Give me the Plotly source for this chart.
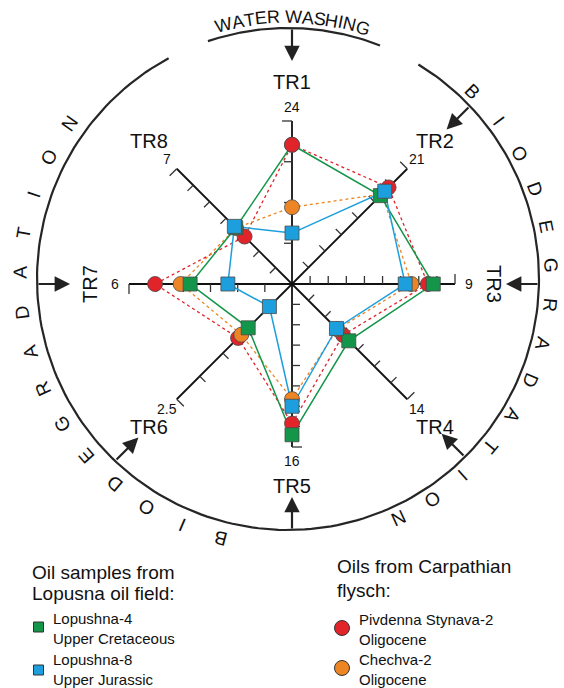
import numpy as np
import plotly.graph_objects as go

# ---------------------------------------------------------------- data
axis_names = ["TR1", "TR2", "TR3", "TR4", "TR5", "TR6", "TR7", "TR8"]
axis_max = [24, 21, 9, 14, 16, 2.5, 6, 7]
axis_intervals = [4, 7, 9, 7, 8, 5, 6, 7]
max_labels = ["24", "21", "9", "14", "16", "2.5", "6", "7"]

lopushna4 = [20.5, 16.1, 7.8, 6.9, 14.8, 0.95, 3.75, 3.42]   # Upper Cretaceous
lopushna8 = [7.5, 16.9, 6.25, 5.4, 12.0, 0.49, 2.36, 3.5]    # Upper Jurassic
pivdenna = [20.5, 17.6, 7.5, 6.2, 13.7, 1.17, 5.04, 2.88]    # Pivdenna Stynava-2
chechva = [11.3, 16.4, 6.6, 5.5, 11.3, 1.1, 4.1, 3.4]        # Chechva-2

# ---------------------------------------------------------------- geometry
W, H = 564, 688
CX, CY = 292, 284            # star centre
OX, OY, OR = 288, 279, 251   # outer ring
L = 163                      # axis length
axis_angles = [90, 45, 0, -45, -90, -135, 180, 135]

FONT = "Liberation Sans, Arial, Helvetica, sans-serif"
GREEN, BLUE, RED, ORANGE = "#13964a", "#1d9fdd", "#e1232a", "#ee8524"


def polar(angle, r, cx=CX, cy=CY):
    a = np.radians(angle)
    return cx + r * np.cos(a), cy - r * np.sin(a)


def series_xy(values, closed=True):
    xs, ys = [], []
    for v, m, a in zip(values, axis_max, axis_angles):
        x, y = polar(a, v / m * L)
        xs.append(x)
        ys.append(y)
    if closed:
        xs.append(xs[0])
        ys.append(ys[0])
    return xs, ys


fig = go.Figure()

# ---------------------------------------------------------------- outer ring
def arc(a0, a1, n=200):
    t = np.linspace(a0, a1, n)
    return list(OX + OR * np.cos(np.radians(t))), list(OY - OR * np.sin(np.radians(t)))

for a0, a1 in [(118.4, 418.7), (68.5, 108.6)]:
    ax_, ay_ = arc(a0, a1)
    fig.add_trace(go.Scatter(x=ax_, y=ay_, mode="lines",
                             line=dict(color="#262626", width=2.2),
                             hoverinfo="skip"))

# ---------------------------------------------------------------- axes and ticks
ax_x, ax_y = [], []
tk_x, tk_y = [], []
for a, n in zip(axis_angles, axis_intervals):
    x0, y0 = polar(a, 0)
    x1, y1 = polar(a, L)
    ax_x += [x0, x1, None]
    ax_y += [y0, y1, None]
    side = np.radians(a + 90)
    sx, sy = np.cos(side), -np.sin(side)
    for k in range(1, n + 1):
        px, py = polar(a, k * L / n)
        ln = 10 if k == n else 8
        tk_x += [px, px + ln * sx, None]
        tk_y += [py, py + ln * sy, None]

fig.add_trace(go.Scatter(x=ax_x, y=ax_y, mode="lines",
                         line=dict(color="#111111", width=1.8), hoverinfo="skip"))
fig.add_trace(go.Scatter(x=tk_x, y=tk_y, mode="lines",
                         line=dict(color="#333333", width=1.3), hoverinfo="skip"))

# ---------------------------------------------------------------- sample polygons
# per-point marker sizes (the Lopushna-4 TR1 marker sits under the red circle)
series = [
    (pivdenna, RED, "circle", [15] * 8, "dot"),
    (chechva, ORANGE, "circle", [15] * 8, "dot"),
    (lopushna4, GREEN, "square", [10] + [14] * 7, "solid"),
    (lopushna8, BLUE, "square", [14] * 8, "solid"),
]
for vals, col, sym, size, dash in series:
    xs, ys = series_xy(vals)
    fig.add_trace(go.Scatter(x=xs, y=ys, mode="lines",
                             line=dict(color=col, width=1.5 if dash == "solid" else 1.3,
                                       dash=dash),
                             hoverinfo="skip"))
for vals, col, sym, size, dash in series:
    xs, ys = series_xy(vals, closed=False)
    fig.add_trace(go.Scatter(x=xs, y=ys, mode="markers",
                             marker=dict(color=col, symbol=sym, size=size, opacity=1,
                                         line=dict(color="#4a4a4a", width=0.8)),
                             hoverinfo="skip"))
# red TR1 marker sits above the green one
rx, ry = series_xy(pivdenna, closed=False)
fig.add_trace(go.Scatter(x=[rx[0]], y=[ry[0]], mode="markers",
                         marker=dict(color=RED, symbol="circle", size=15, opacity=1,
                                     line=dict(color="#4a4a4a", width=0.8)),
                         hoverinfo="skip"))

annotations = []

# ---------------------------------------------------------------- axis labels
for name, lab, a in zip(axis_names, max_labels, axis_angles):
    nx, ny = polar(a, 202)
    ang = 90 if name == "TR3" else (-90 if name == "TR7" else 0)
    annotations.append(dict(x=nx, y=ny, text=name, showarrow=False, textangle=ang,
                            font=dict(family=FONT, size=20, color="#111111"),
                            xanchor="center", yanchor="middle"))
    lx, ly = polar(a, 177)
    annotations.append(dict(x=lx, y=ly, text=lab, showarrow=False,
                            font=dict(family=FONT, size=14, color="#111111"),
                            xanchor="center", yanchor="middle"))

# ---------------------------------------------------------------- inward arrows
for name, a in zip(axis_names, axis_angles):
    if name == "TR8":
        continue
    ux, uy = np.cos(np.radians(a)), -np.sin(np.radians(a))
    dx, dy = CX - OX, CY - OY
    b = dx * ux + dy * uy
    t = -b + np.sqrt(b * b - (dx * dx + dy * dy) + OR * OR)
    bx, by = CX + t * ux, CY + t * uy
    tx, ty = CX + (t - 33) * ux, CY + (t - 33) * uy
    annotations.append(dict(x=tx, y=ty, ax=bx, ay=by, xref="x", yref="y",
                            axref="x", ayref="y", text="", showarrow=True,
                            arrowhead=2, arrowsize=1.4, arrowwidth=2.2,
                            arrowcolor="#222222", standoff=0))

# ---------------------------------------------------------------- ring captions
word = "BIODEGRADATION"
for start, r_txt in ((45.5, 263), (255.3, 268)):
    for i, ch in enumerate(word):
        th = start - i * 8.52
        x, y = polar(th, r_txt, OX, OY)
        ang = 90 - th
        ang = (ang + 180) % 360 - 180
        annotations.append(dict(x=x, y=y, text=ch, showarrow=False, textangle=ang,
                                font=dict(family=FONT, size=19, color="#111111"),
                                xanchor="center", yanchor="middle"))

caption = "WATER WASHING"
char_w = {"W": 944, "A": 667, "T": 611, "E": 667, "R": 722, " ": 278,
          "S": 667, "H": 722, "I": 278, "N": 722, "G": 778}
fs = 18
widths = [char_w[c] * fs / 1000 for c in caption]
total = sum(widths)
r_cap = 262
pos = 0
for ch, w in zip(caption, widths):
    s = pos + w / 2 - total / 2
    pos += w
    if ch == " ":
        continue
    th = 89.0 - np.degrees(s / r_cap)
    x, y = polar(th, r_cap, OX, OY)
    annotations.append(dict(x=x, y=y, text=ch, showarrow=False, textangle=90 - th,
                            font=dict(family=FONT, size=fs, color="#111111"),
                            xanchor="center", yanchor="middle"))

# ---------------------------------------------------------------- key
def text(x, y, s, size):
    annotations.append(dict(x=x, y=y, text=s, showarrow=False, align="left",
                            font=dict(family=FONT, size=size, color="#111111"),
                            xanchor="left", yanchor="middle"))

text(30, 572, "Oil samples from", 19)
text(30, 593, "Lopusna oil field:", 19)
text(51, 628, "Lopushna-4<br>Upper Cretaceous", 15)
text(51, 669, "Lopushna-8<br>Upper Jurassic", 15)

text(335, 566, "Oils from Carpathian", 19)
text(335, 590, "flysch:", 19)
text(357, 629, "Pivdenna Stynava-2<br>Oligocene", 15)
text(357, 669, "Chechva-2<br>Oligocene", 15)

key = [(38.5, 627, GREEN, "square", 10), (38.5, 670, BLUE, "square", 10),
       (342, 628, RED, "circle", 15), (342, 668, ORANGE, "circle", 15)]
for kx, ky, col, sym, size in key:
    fig.add_trace(go.Scatter(x=[kx], y=[ky], mode="markers",
                             marker=dict(color=col, symbol=sym, size=size, opacity=1,
                                         line=dict(color="#333333", width=1)),
                             hoverinfo="skip"))

fig.update_layout(
    width=W, height=H, autosize=False,
    margin=dict(l=0, r=0, t=0, b=0),
    paper_bgcolor="white", plot_bgcolor="white",
    showlegend=False,
    xaxis=dict(range=[0, W], visible=False, fixedrange=True),
    yaxis=dict(range=[H, 0], visible=False, fixedrange=True),
    annotations=annotations,
)

fig.write_html("out.html")
